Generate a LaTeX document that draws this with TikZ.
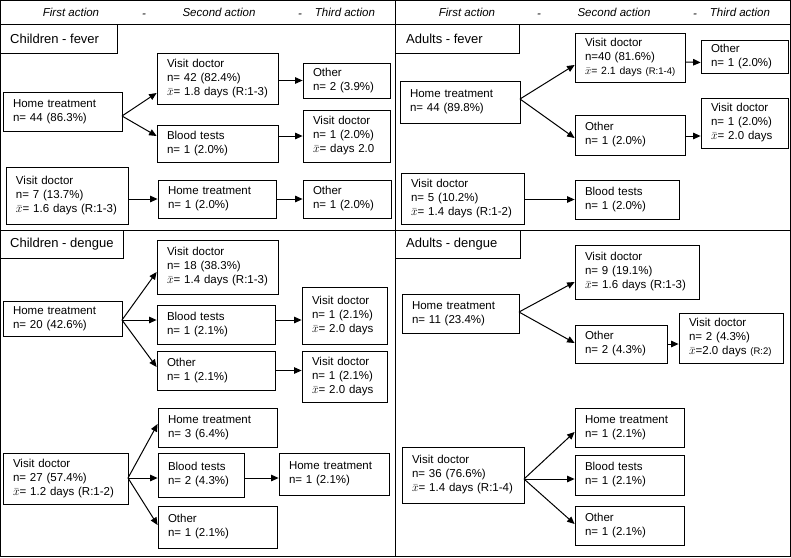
\documentclass[tikz,border=0pt]{standalone}
\usepackage{fontspec}
\setmainfont{Liberation Sans}
\usetikzlibrary{arrows.meta,calc}
\newcommand{\xb}{$\bar{x}$}
\newcommand{\smr}[1]{{\fontsize{9.5}{13}\selectfont #1}}
\begin{document}
\begin{tikzpicture}[x=1pt,y=-1pt,
 bx/.style={draw, line width=0.8pt, inner xsep=10pt, inner ysep=0pt, align=left, font=\fontsize{11.5}{14}\selectfont},
 arr/.style={-{Triangle[length=7.5pt,width=6.5pt]}, line width=1pt},
 hd/.style={font=\fontsize{11.5}{14}\selectfont\itshape, inner sep=0pt, anchor=base},
 sec/.style={font=\fontsize{13}{15}\selectfont, inner sep=0pt, anchor=west},
 frame/.style={line width=0.9pt}]
\useasboundingbox (0,0) rectangle (791,557);
% frame
\draw[frame] (0.6,0.6) rectangle (790,556);
\draw[frame] (0,24.5) -- (790,24.5);
\draw[frame] (395.5,0) -- (395.5,556);
\draw[frame] (0,230) -- (790,230);
% headers
\node[hd] (h1) at (71,16) {First action};
\node[hd] (h2) at (144,17.5) {-};
\node[hd] (h3) at (219,16) {Second action};
\node[hd] (h4) at (300,17.5) {-};
\node[hd] (h5) at (345,16) {Third action};
\node[hd] (h6) at (467,16) {First action};
\node[hd] (h7) at (539,17.5) {-};
\node[hd] (h8) at (614,16) {Second action};
\node[hd] (h9) at (695,17.5) {-};
\node[hd] (h10) at (740,16) {Third action};
% section labels
\draw[frame] (0,24.5) rectangle (117,53);
\node[sec] (s1) at (10,38.5) {Children - fever};
\draw[frame] (395.5,24.5) rectangle (519,53);
\node[sec] (s2) at (406,38.5) {Adults - fever};
\draw[frame] (0,230) rectangle (123,258);
\node[sec] (s3) at (10,244) {Children - dengue};
\draw[frame] (395.5,230) rectangle (520,258);
\node[sec] (s4) at (406,244) {Adults - dengue};
% ---------- Children - fever
\node[bx, text width=99pt, minimum height=39pt] (cf1) at (62.5,111.5) {Home treatment\\n= 44 (86.3\%)};
\node[bx, text width=101pt, minimum height=51pt] (cf2) at (217.5,78.5) {Visit doctor\\n= 42 (82.4\%)\\\mbox{\xb= 1.8 days (R:1-3)}};
\node[bx, text width=101pt, minimum height=37pt] (cf3) at (217.5,143.5) {Blood tests\\n= 1 (2.0\%)};
\node[bx, text width=67pt, minimum height=35pt] (cf4) at (346.5,80.5) {Other\\n= 2 (3.9\%)};
\node[bx, text width=67pt, minimum height=52pt] (cf5) at (346.5,136) {Visit doctor\\n= 1 (2.0\%)\\\mbox{\xb= days 2.0}};
\node[bx, text width=102pt, minimum height=57pt] (cf6) at (67,195.5) {Visit doctor\\n= 7 (13.7\%)\\\mbox{\xb= 1.6 days (R:1-3)}};
\node[bx, text width=98pt, minimum height=38pt] (cf7) at (217,199) {Home treatment\\n= 1 (2.0\%)};
\node[bx, text width=68pt, minimum height=38pt] (cf8) at (347,199) {Other\\n= 1 (2.0\%)};
\coordinate (cfk) at (122,116);
\draw[arr] (cfk) -- ($(cf2.west)+(0,14.5)$);
\draw[arr] (cfk) -- ($(cf3.west)+(0,-7.5)$);
\draw[arr] (cf2.east |- cf4.west) -- (cf4.west);
\draw[arr] (cf3.east |- cf5.west) -- (cf5.west);
\draw[arr] (cf6.east |- cf7.west) -- (cf7.west);
\draw[arr] (cf7.east) -- (cf8.west);
% ---------- Adults - fever
\node[bx, text width=100pt, minimum height=42pt] (af1) at (460,102) {Home treatment\\n= 44 (89.8\%)};
\node[bx, text width=90pt, minimum height=49pt] (af2) at (630,57.5) {Visit doctor\\n=40 (81.6\%)\\\mbox{\fontsize{10.5}{13}\selectfont\xb= 2.1 days \smr{(R:1-4)}}};
\node[bx, text width=67pt, minimum height=33pt] (af3) at (744.5,57) {Other\\n= 1 (2.0\%)};
\node[bx, text width=90pt, minimum height=40pt] (af4) at (630,135) {Other\\n= 1 (2.0\%)};
\node[bx, text width=67pt, minimum height=50pt] (af5) at (744.5,123) {Visit doctor\\n= 1 (2.0\%)\\\mbox{\xb= 2.0 days}};
\node[bx, text width=103pt, minimum height=51pt] (af6) at (462.5,198.5) {Visit doctor\\n= 5 (10.2\%)\\\mbox{\xb= 1.4 days (R:1-2)}};
\node[bx, text width=84pt, minimum height=39pt] (af7) at (627,199.5) {Blood tests\\n= 1 (2.0\%)};
\coordinate (afk) at (520,99);
\draw[arr] (afk) -- ($(af2.west)+(0,7.5)$);
\draw[arr] (afk) -- ($(af4.west)+(0,3)$);
\draw[arr] ($(af2.east)+(0,4.5)$) -- ($(af3.west)+(0,5.5)$);
\draw[arr] ($(af4.east)+(0,1)$) -- ($(af5.west)+(0,13)$);
\draw[arr] (af6.east |- af7.west) -- (af7.west);
% ---------- Children - dengue
\node[bx, text width=99pt, minimum height=35pt] (cd1) at (62.5,318.5) {Home treatment\\n= 20 (42.6\%)};
\node[bx, text width=101pt, minimum height=54pt] (cd2) at (217.5,267) {Visit doctor\\n= 18 (38.3\%)\\\mbox{\xb= 1.4 days (R:1-3)}};
\node[bx, text width=98pt, minimum height=39pt] (cd3) at (216,324.5) {Blood tests\\n= 1 (2.1\%)};
\node[bx, text width=98pt, minimum height=39pt] (cd4) at (216,370.5) {Other\\n= 1 (2.1\%)};
\node[bx, text width=65pt, minimum height=57pt] (cd5) at (344.5,315.5) {Visit doctor\\n= 1 (2.1\%)\\\mbox{\xb= 2.0 days}};
\node[bx, text width=65pt, minimum height=51pt] (cd6) at (344.5,376.5) {Visit doctor\\n= 1 (2.1\%)\\\mbox{\xb= 2.0 days}};
\coordinate (cdk) at (122,320);
\draw[arr] (cdk) -- ($(cd2.west)+(0,5)$);
\draw[arr] (cdk) -- (cd3.west |- cdk);
\draw[arr] (cdk) -- ($(cd4.west)+(0,-3.5)$);
\draw[arr] (cd3.east |- cdk) -- (cd5.west |- cdk);
\draw[arr] (cd4.east) -- (cd6.west |- cd4.east);
\node[bx, text width=105pt, minimum height=51pt] (cl1) at (65.5,478.5) {Visit doctor\\n= 27 (57.4\%)\\\mbox{\xb= 1.2 days (R:1-2)}};
\node[bx, text width=99pt, minimum height=39pt] (cl2) at (217.5,427.5) {Home treatment\\n= 3 (6.4\%)};
\node[bx, text width=66pt, minimum height=44pt] (cl3) at (201,475) {Blood tests\\n= 2 (4.3\%)};
\node[bx, text width=99pt, minimum height=42pt] (cl4) at (217.5,527) {Other\\n= 1 (2.1\%)};
\node[bx, text width=90pt, minimum height=42pt] (cl5) at (334,474) {Home treatment\\n= 1 (2.1\%)};
\coordinate (clk) at (128,478);
\draw[arr] (clk) -- ($(cl2.west)+(0,-3.5)$);
\draw[arr] (clk) -- (cl3.west |- clk);
\draw[arr] (clk) -- ($(cl4.west)+(0,-2)$);
\draw[arr] (cl3.east |- clk) -- (cl5.west |- clk);
% ---------- Adults - dengue
\node[bx, text width=104pt, minimum height=54pt] (ad1) at (637,272) {Visit doctor\\n= 9 (19.1\%)\\\mbox{\xb= 1.6 days (R:1-3)}};
\node[bx, text width=97pt, minimum height=39pt] (ad2) at (460.5,313.5) {Home treatment\\n= 11 (23.4\%)};
\node[bx, text width=72pt, minimum height=38pt] (ad3) at (621,344) {Other\\n= 2 (4.3\%)};
\node[bx, text width=84pt, minimum height=50pt] (ad4) at (731,338) {Visit doctor\\n= 2 (4.3\%)\\\mbox{\xb=2.0 days \smr{(R:2)}}};
\coordinate (adk) at (519,312);
\draw[arr] (adk) -- ($(ad1.west)+(0,10)$);
\draw[arr] (adk) -- ($(ad3.west)+(0,-1)$);
\draw[arr] (ad3.east) -- (ad4.west |- ad3.east);
\node[bx, text width=102pt, minimum height=56pt] (al1) at (463,475) {Visit doctor\\n= 36 (76.6\%)\\\mbox{\xb= 1.4 days (R:1-4)}};
\node[bx, text width=89pt, minimum height=39pt] (al2) at (629.5,427.5) {Home treatment\\n= 1 (2.1\%)};
\node[bx, text width=89pt, minimum height=40pt] (al3) at (629.5,475) {Blood tests\\n= 1 (2.1\%)};
\node[bx, text width=89pt, minimum height=39pt] (al4) at (629.5,525.5) {Other\\n= 1 (2.1\%)};
\coordinate (alk) at (524,479);
\draw[arr] (alk) -- ($(al2.west)+(0,4.5)$);
\draw[arr] (alk) -- (al3.west |- alk);
\draw[arr] (alk) -- ($(al4.west)+(0,-1.5)$);
\end{tikzpicture}
\end{document}
